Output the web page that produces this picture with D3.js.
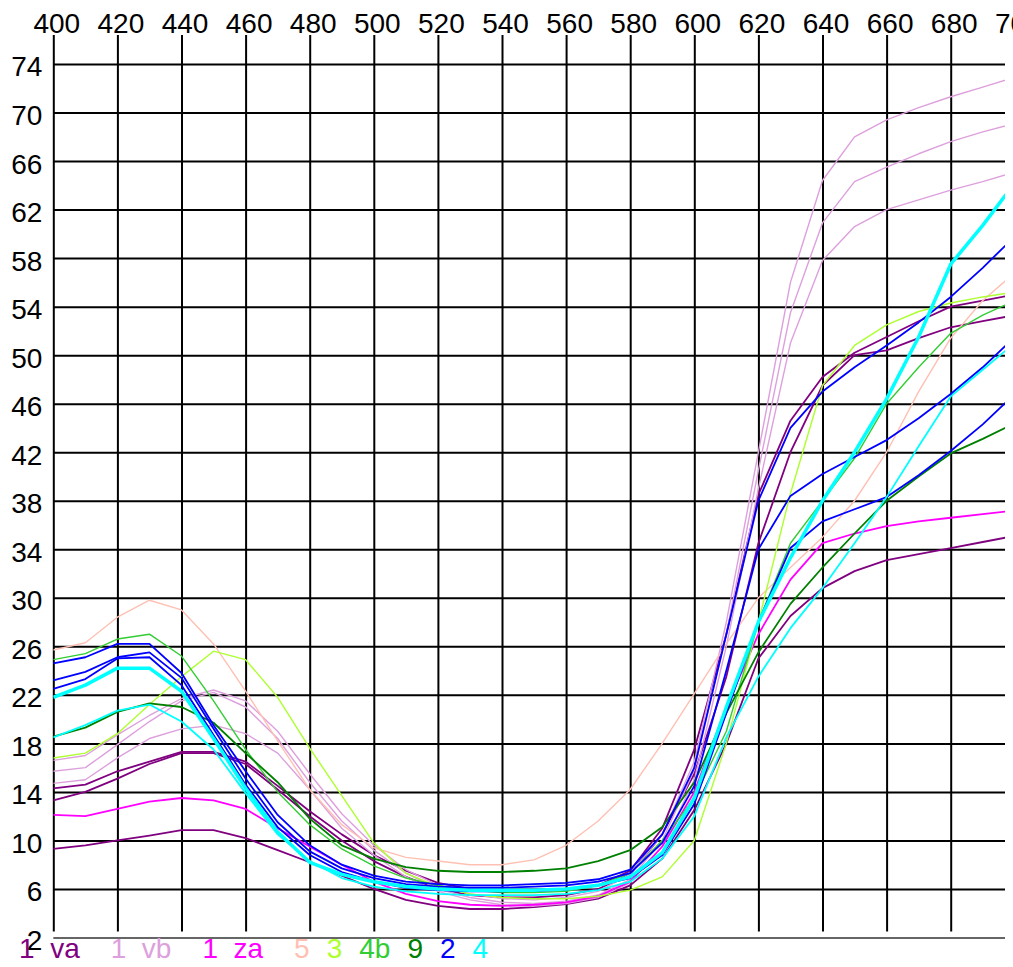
<!DOCTYPE html>
<html>
<head>
<meta charset="utf-8">
<script src="https://cdnjs.cloudflare.com/ajax/libs/d3/7.8.5/d3.min.js"></script>
<style>
    body { margin: 0; background: #fff; }
    svg { display: block; }
    .axis text, .legend text {
        font-family: "Liberation Sans", Arial, sans-serif;
        font-size: 28px;
        fill: #000;
    }
</style>
</head>
<body>
<div id="chart"></div>
<script>
// wavelength (nm) for every sample
const wavelengths = [400, 410, 420, 430, 440, 450, 460, 470, 480, 490, 500, 510, 520, 530, 540, 550,
    560, 570, 580, 590, 600, 610, 620, 630, 640, 650, 660, 670, 680, 690, 700];
const xTicks = [400, 420, 440, 460, 480, 500, 520, 540, 560, 580, 600, 620, 640, 660, 680, 700];
const yTicks = [2, 6, 10, 14, 18, 22, 26, 30, 34, 38, 42, 46, 50, 54, 58, 62, 66, 70, 74];

const groupLabels = ["1 va", "1 vb", "1 za", "5", "3", "4b", "9", "2", "4"];

// reflectance values
const va1 = [9.3, 9.6, 10.0, 10.4, 10.85, 10.85, 10.2, 9.2, 8.2, 7.1, 6.0, 5.1, 4.6, 4.35, 4.35, 4.5,
    4.75, 5.2, 6.3, 8.5, 12.5, 18, 25, 28.5, 30.8, 32.2, 33.1, 33.6, 34.1, 34.6, 35.1];
const va2 = [13.3, 14.0, 15.1, 16.3, 17.2, 17.2, 16.3, 14.2, 12.0, 10.0, 8.3, 7.0, 6.0, 5.5, 5.3, 5.3,
    5.5, 6.0, 7.2, 10.5, 15.5, 23.5, 34.5, 42, 47.5, 50.0, 50.4, 51.4, 52.3, 52.8, 53.3];
const va3 = [14.3, 14.6, 15.7, 16.5, 17.3, 17.3, 16.5, 14.5, 12.4, 10.5, 8.8, 7.5, 6.5, 6.0, 5.8, 5.8,
    5.9, 6.3, 7.5, 11, 17.5, 27, 38.5, 44.6, 48.2, 50.2, 51.5, 52.8, 54.0, 54.5, 55.0];
const vb1 = [14.7, 15.0, 16.8, 18.4, 19.2, 19.5, 18.8, 17.2, 14.2, 11.0, 8.8, 7.0, 5.8, 5.1, 4.7, 4.6,
    4.8, 5.3, 6.5, 9.5, 15.0, 26, 39, 51, 57.8, 60.6, 62, 62.8, 63.6, 64.3, 65.1];
const vb2 = [15.7, 16.0, 17.9, 19.8, 21.5, 22.2, 21.0, 18.4, 14.8, 11.6, 9.2, 7.3, 6.0, 5.3, 4.9, 4.8,
    5.0, 5.5, 6.8, 10, 15.8, 27, 40.5, 53.5, 60.9, 64.3, 65.5, 66.6, 67.6, 68.4, 69.1];
const vb3 = [16.6, 17.0, 18.7, 20.3, 21.7, 22.4, 21.5, 19.0, 15.5, 12.2, 9.6, 7.6, 6.3, 5.6, 5.2, 5.1,
    5.3, 5.8, 7.2, 10.5, 16.5, 28, 42, 56, 64.4, 68, 69.4, 70.4, 71.3, 72.1, 72.9];
const za1 = [12.1, 12.0, 12.6, 13.2, 13.5, 13.3, 12.6, 11.0, 9.5, 8.0, 6.6, 5.6, 5.0, 4.7, 4.6, 4.7,
    4.9, 5.4, 6.6, 9.5, 14, 21, 27, 31.5, 34.5, 35.3, 35.9, 36.3, 36.6, 36.9, 37.2];
const s5 = [25.7, 26.3, 28.4, 29.8, 29.0, 26.2, 22.3, 18.2, 14.2, 11.3, 9.4, 8.6, 8.3, 8.0, 8.0, 8.4,
    9.6, 11.6, 14.2, 18.0, 22.1, 26.2, 30, 32.5, 35, 38, 42, 47, 51.4, 54.5, 56.8];
const s3 = [16.8, 17.2, 18.8, 21.2, 23.5, 25.6, 24.9, 21.8, 17.6, 13.7, 9.8, 7.3, 6.2, 5.6, 5.3, 5.2,
    5.2, 5.4, 5.9, 7.0, 10, 18, 28, 38.6, 47.5, 50.8, 52.5, 53.6, 54.3, 54.8, 55.2];
const s4b = [24.9, 25.4, 26.6, 27.0, 25.2, 21.5, 17.5, 14.0, 11.3, 9.3, 7.9, 6.9, 6.3, 5.9, 5.7, 5.7,
    5.8, 6.3, 7.3, 10, 13.5, 19, 28, 34.5, 38, 41.5, 46, 49, 51.8, 53.3, 54.5];
const s9 = [18.55, 19.3, 20.6, 21.3, 21.0, 19.7, 17.2, 14.8, 11.8, 9.6, 8.5, 7.8, 7.5, 7.4, 7.4, 7.5,
    7.7, 8.3, 9.2, 11.1, 14.8, 20.5, 25.5, 29.5, 32.5, 35.3, 38, 40, 41.9, 43.1, 44.4];
const s2a = [22.5, 23.3, 25.0, 25.1, 22.8, 18.7, 14.6, 11.1, 8.8, 7.4, 6.6, 6.1, 5.9, 5.8, 5.8, 5.9,
    6.0, 6.3, 6.9, 8.8, 13, 20.5, 28, 34.1, 36.3, 37.3, 38.3, 40.1, 42.1, 44.3, 46.8];
const s2b = [23.2, 23.9, 25.1, 25.5, 23.4, 19.2, 15.1, 11.5, 9.1, 7.7, 6.9, 6.4, 6.2, 6.1, 6.1, 6.2,
    6.3, 6.6, 7.3, 9.8, 14.5, 24, 34, 38.4, 40.2, 41.6, 43, 44.8, 46.8, 49.0, 51.5];
const s2c = [24.6, 25.1, 26.2, 26.2, 23.8, 19.5, 15.7, 12.1, 9.6, 8.0, 7.1, 6.6, 6.4, 6.3, 6.3, 6.4,
    6.5, 6.8, 7.6, 10.5, 16, 27, 38, 44, 47, 49, 50.8, 52.7, 54.8, 57.2, 59.8];
const s4a = [21.8, 22.8, 24.2, 24.2, 22.3, 18.4, 14.3, 10.7, 8.2, 7.2, 6.6, 6.2, 6.0, 5.9, 5.9, 5.9,
    6.0, 6.3, 7.0, 9.0, 13.5, 21, 28, 33.3, 38, 42, 46.4, 51.5, 57.5, 60.7, 64.2];
const s4c = [18.5, 19.5, 20.7, 21.2, 19.8, 17.5, 13.9, 10.5, 8.3, 6.9, 6.2, 5.8, 5.6, 5.5, 5.5, 5.5,
    5.6, 5.9, 6.6, 8.5, 12.0, 18.5, 23.5, 27.5, 30.8, 34.5, 38.3, 42.5, 46.6, 48.8, 51];

const seriesList = [
    {label: "1 va", values: va1}, {label: "1 va", values: va2}, {label: "1 va", values: va3},
    {label: "1 vb", values: vb1}, {label: "1 vb", values: vb2}, {label: "1 vb", values: vb3},
    {label: "1 za", values: za1},
    {label: "5", values: s5},
    {label: "3", values: s3},
    {label: "4b", values: s4b},
    {label: "9", values: s9},
    {label: "2", values: s2a}, {label: "2", values: s2b}, {label: "2", values: s2c},
    {label: "4", values: s4c}, {label: "4", values: s4a}
];

class SpectrumChart {
    constructor(parentElement, series) {
        this.parentElement = parentElement;
        this.series = series;
        this.initVis();
    }

    initVis() {
        let vis = this;

        vis.width = 1013;
        vis.height = 967;
        vis.plotRight = 1005;

        vis.svg = d3.select("#" + vis.parentElement).append("svg")
            .attr("width", vis.width)
            .attr("height", vis.height);

        vis.x = d3.scaleLinear()
            .domain([400, 700])
            .range([53.3, 1014.8]);

        vis.y = d3.scaleLinear()
            .domain([2, 74])
            .range([937.5, 64]);

        vis.color = d3.scaleOrdinal()
            .domain(groupLabels)
            .range(["#800080", "#dda0dd", "#ff00ff", "#ffc0b4", "#adff2f", "#32cd32", "#008000", "#0000ff", "#00ffff"]);

        // light colours were drawn thinner in the original
        vis.lightGroups = ["1 vb", "5", "3", "4b"];

        vis.svg.append("clipPath")
            .attr("id", "clip")
            .append("rect")
            .attr("x", vis.x(400))
            .attr("y", 30)
            .attr("width", vis.plotRight - vis.x(400))
            .attr("height", vis.y(2) - 30);

        vis.line = d3.line()
            .x((d, i) => vis.x(wavelengths[i]))
            .y(d => vis.y(d));

        vis.updateVis();
    }

    updateVis() {
        let vis = this;

        // vertical grid + wavelength labels on top
        let xAxis = d3.axisTop(vis.x)
            .tickValues(xTicks)
            .tickSize(-(vis.y(2) - 6 - 35))
            .tickPadding(2);

        let gx = vis.svg.append("g")
            .attr("class", "axis x-axis")
            .attr("transform", "translate(0,35)")
            .call(xAxis);
        gx.select(".domain").remove();
        gx.selectAll("line").attr("stroke", "#000").attr("stroke-width", 2);
        gx.selectAll("text").attr("x", 3).attr("y", -2);

        // horizontal grid + value labels on the left
        let yAxis = d3.axisLeft(vis.y)
            .tickValues(yTicks)
            .tickSize(0)
            .tickPadding(11);

        let gy = vis.svg.append("g")
            .attr("class", "axis y-axis")
            .attr("transform", "translate(" + vis.x(400) + ",0)")
            .call(yAxis);
        gy.select(".domain").remove();
        gy.selectAll(".tick text").attr("dy", "0.32em").attr("y", 3);
        gy.selectAll(".tick").append("line")
            .attr("x1", 0)
            .attr("x2", vis.plotRight - vis.x(400))
            .attr("stroke", d => d === 2 ? "#666" : "#000")
            .attr("stroke-width", 2);

        // spectra
        vis.svg.append("g")
            .attr("clip-path", "url(#clip)")
            .selectAll("path")
            .data(vis.series)
            .enter()
            .append("path")
            .attr("fill", "none")
            .attr("stroke", d => vis.color(d.label))
            .attr("stroke-width", d => {
                if (d.values === s4a) return 3.5;
                return vis.lightGroups.includes(d.label) ? 1.4 : 1.8;
            })
            .attr("stroke-linejoin", "round")
            .attr("d", d => vis.line(d.values));

        // legend along the bottom
        let legend = vis.svg.append("g").attr("class", "legend");
        let lx = 19;
        groupLabels.forEach(label => {
            let t = legend.append("text")
                .attr("x", lx)
                .attr("y", 958)
                .style("fill", vis.color(label))
                .text(label.replace(" ", "\u00a0\u00a0"));
            lx += t.node().getComputedTextLength() + (label.includes(" ") ? 31 : 17);
        });
    }
}

new SpectrumChart("chart", seriesList);
</script>
</body>
</html>
